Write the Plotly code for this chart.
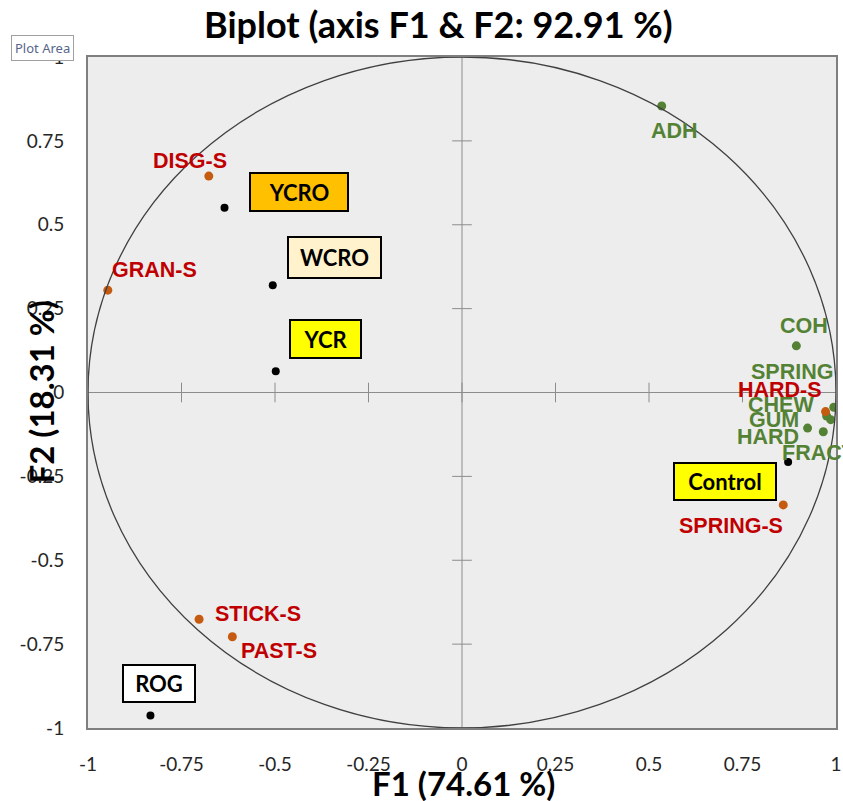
import plotly.graph_objects as go

# ---------------- data ----------------
obs_names = ["YCRO", "WCRO", "YCR", "Control", "ROG"]
obs_x = [-0.635, -0.506, -0.498, 0.872, -0.833]
obs_y = [0.551, 0.320, 0.063, -0.207, -0.963]

sup_names = ["DISG-S", "GRAN-S", "HARD-S", "SPRING-S", "STICK-S", "PAST-S"]
sup_x = [-0.677, -0.947, 0.972, 0.859, -0.703, -0.614]
sup_y = [0.645, 0.305, -0.057, -0.335, -0.676, -0.728]

var_names = ["ADH", "COH", "SPRING", "CHEW", "GUM", "HARD", "FRACT"]
var_x = [0.534, 0.894, 0.994, 0.986, 0.966, 0.924, 0.975]
var_y = [0.854, 0.139, -0.044, -0.081, -0.117, -0.106, -0.070]

tick_vals = [-1, -0.75, -0.5, -0.25, 0, 0.25, 0.5, 0.75, 1]
tick_text = ["-1", "-0.75", "-0.5", "-0.25", "0", "0.25", "0.5", "0.75", "1"]

title_text = "Biplot (axis F1 & F2: 92.91 %)"
x_title = "F1 (74.61 %)"
y_title = "F2 (18.31 %)"

# ---------------- styles ----------------
obs_fill = {"YCRO": "#FFC000", "WCRO": "#FFF2CC", "YCR": "#FFFF00",
            "Control": "#FFFF00", "ROG": "#FFFFFF"}
# label box: (dx, dy) pixel offset of centre from point (dy down), (w, h)
obs_box = {"YCRO": (74, -16, 92, 32), "WCRO": (62, -28, 87, 35),
           "YCR": (50, -32, 65, 32), "Control": (-63, 20, 96, 31),
           "ROG": (9, -32, 66, 31)}
sup_off = {"DISG-S": (-19, -15), "GRAN-S": (47, -20), "HARD-S": (-46, -22),
           "SPRING-S": (-52, 21), "STICK-S": (59, -5), "PAST-S": (47, 14)}
var_off = {"ADH": (13, 25), "COH": (8, -20), "SPRING": (-42, -35),
           "CHEW": (-50, -15), "GUM": (-49, -12), "HARD": (-40, 9),
           "FRACT": (-8, 37)}

GREEN = "#548235"
RED = "#C00000"
ORANGE = "#C55A11"
LABEL_FONT = "Liberation Sans"
MAIN_FONT = "Lato"
AXIS_GRAY = "#8C8C8C"

fig = go.Figure()

# ticks drawn on the zero axes
fig.add_trace(go.Scatter(
    x=tick_vals, y=[0] * len(tick_vals), mode="markers",
    marker=dict(symbol="line-ns", size=14, line=dict(width=1, color=AXIS_GRAY)),
    hoverinfo="skip", showlegend=False))
fig.add_trace(go.Scatter(
    x=[0] * len(tick_vals), y=tick_vals, mode="markers",
    marker=dict(symbol="line-ew", size=14, line=dict(width=1, color=AXIS_GRAY)),
    hoverinfo="skip", showlegend=False))

fig.add_trace(go.Scatter(x=var_x, y=var_y, mode="markers", name="Variables",
                         marker=dict(color=GREEN, size=9), showlegend=False))
fig.add_trace(go.Scatter(x=sup_x, y=sup_y, mode="markers", name="Supplementary",
                         marker=dict(color=ORANGE, size=9), showlegend=False))
fig.add_trace(go.Scatter(x=obs_x, y=obs_y, mode="markers", name="Observations",
                         marker=dict(color="#000000", size=8), showlegend=False))

annotations = []
for n, x, y in zip(var_names, var_x, var_y):
    dx, dy = var_off[n]
    annotations.append(dict(x=x, y=y, text=n, showarrow=False, xshift=dx, yshift=-dy,
                            font=dict(family=LABEL_FONT, size=21.5, color=GREEN, weight="bold")))
for n, x, y in zip(sup_names, sup_x, sup_y):
    dx, dy = sup_off[n]
    annotations.append(dict(x=x, y=y, text=n, showarrow=False, xshift=dx, yshift=-dy,
                            font=dict(family=LABEL_FONT, size=21.5, color=RED, weight="bold")))
for n, x, y in zip(obs_names, obs_x, obs_y):
    dx, dy, w, h = obs_box[n]
    annotations.append(dict(x=x, y=y, text=n, showarrow=False, xshift=dx, yshift=-dy,
                            width=w, height=h, borderpad=2, borderwidth=2,
                            bordercolor="#000000", bgcolor=obs_fill[n], align="center",
                            valign="middle",
                            font=dict(family=MAIN_FONT, size=22, color="#000000", weight="bold")))

# axis titles
annotations.append(dict(xref="paper", yref="paper", x=0.5, y=0, yanchor="middle",
                        yshift=-55, xshift=1, text=x_title, showarrow=False,
                        font=dict(family=MAIN_FONT, size=33, color="#000000", weight="bold")))
annotations.append(dict(xref="paper", yref="paper", x=0, y=0.5, xanchor="center",
                        xshift=-48, text=y_title, showarrow=False, textangle=-90,
                        font=dict(family=MAIN_FONT, size=33, color="#000000", weight="bold")))
# "Plot Area" tooltip
annotations.append(dict(xref="paper", yref="paper", x=0, y=1, xanchor="left", yanchor="bottom",
                        xshift=-77, yshift=-4, text="Plot Area", showarrow=False,
                        bgcolor="#FFFFFF", bordercolor="#A0A0A0", borderwidth=1, borderpad=3,
                        font=dict(family="Noto Sans", size=13, color="#56668A")))

shapes = [
    dict(type="circle", xref="x", yref="y", x0=-1, y0=-1, x1=1, y1=1,
         line=dict(color="#404040", width=1.3), layer="above"),
    dict(type="line", xref="x", yref="paper", x0=0, x1=0, y0=0, y1=1,
         line=dict(color=AXIS_GRAY, width=1), layer="below"),
    dict(type="line", xref="paper", yref="y", x0=0, x1=1, y0=0, y1=0,
         line=dict(color=AXIS_GRAY, width=1), layer="below"),
]

axis_common = dict(range=[-1, 1], tickvals=tick_vals, ticktext=tick_text,
                   showgrid=False, zeroline=False, showline=True, mirror=True,
                   linecolor="#7F7F7F", linewidth=2, ticks="",
                   ticklabeloverflow="allow",
                   tickfont=dict(family=MAIN_FONT, size=19, color="#262626"))

fig.update_layout(
    width=843, height=801,
    margin=dict(l=88, r=7, t=57, b=73, autoexpand=False),
    paper_bgcolor="#FFFFFF", plot_bgcolor="#EDEDED",
    title=dict(text=title_text, x=0.52, xanchor="center", y=0.968, yanchor="middle",
               font=dict(family=MAIN_FONT, size=36, color="#000000", weight="bold")),
    xaxis=dict(**axis_common, ticklabelstandoff=18, automargin=False),
    yaxis=dict(**axis_common, ticklabelstandoff=18, automargin=False),
    annotations=annotations, shapes=shapes, showlegend=False,
)

fig.write_html("out.html", config={"displayModeBar": False},
               post_script="document.body.style.margin='0px';document.body.style.overflow='hidden';")
